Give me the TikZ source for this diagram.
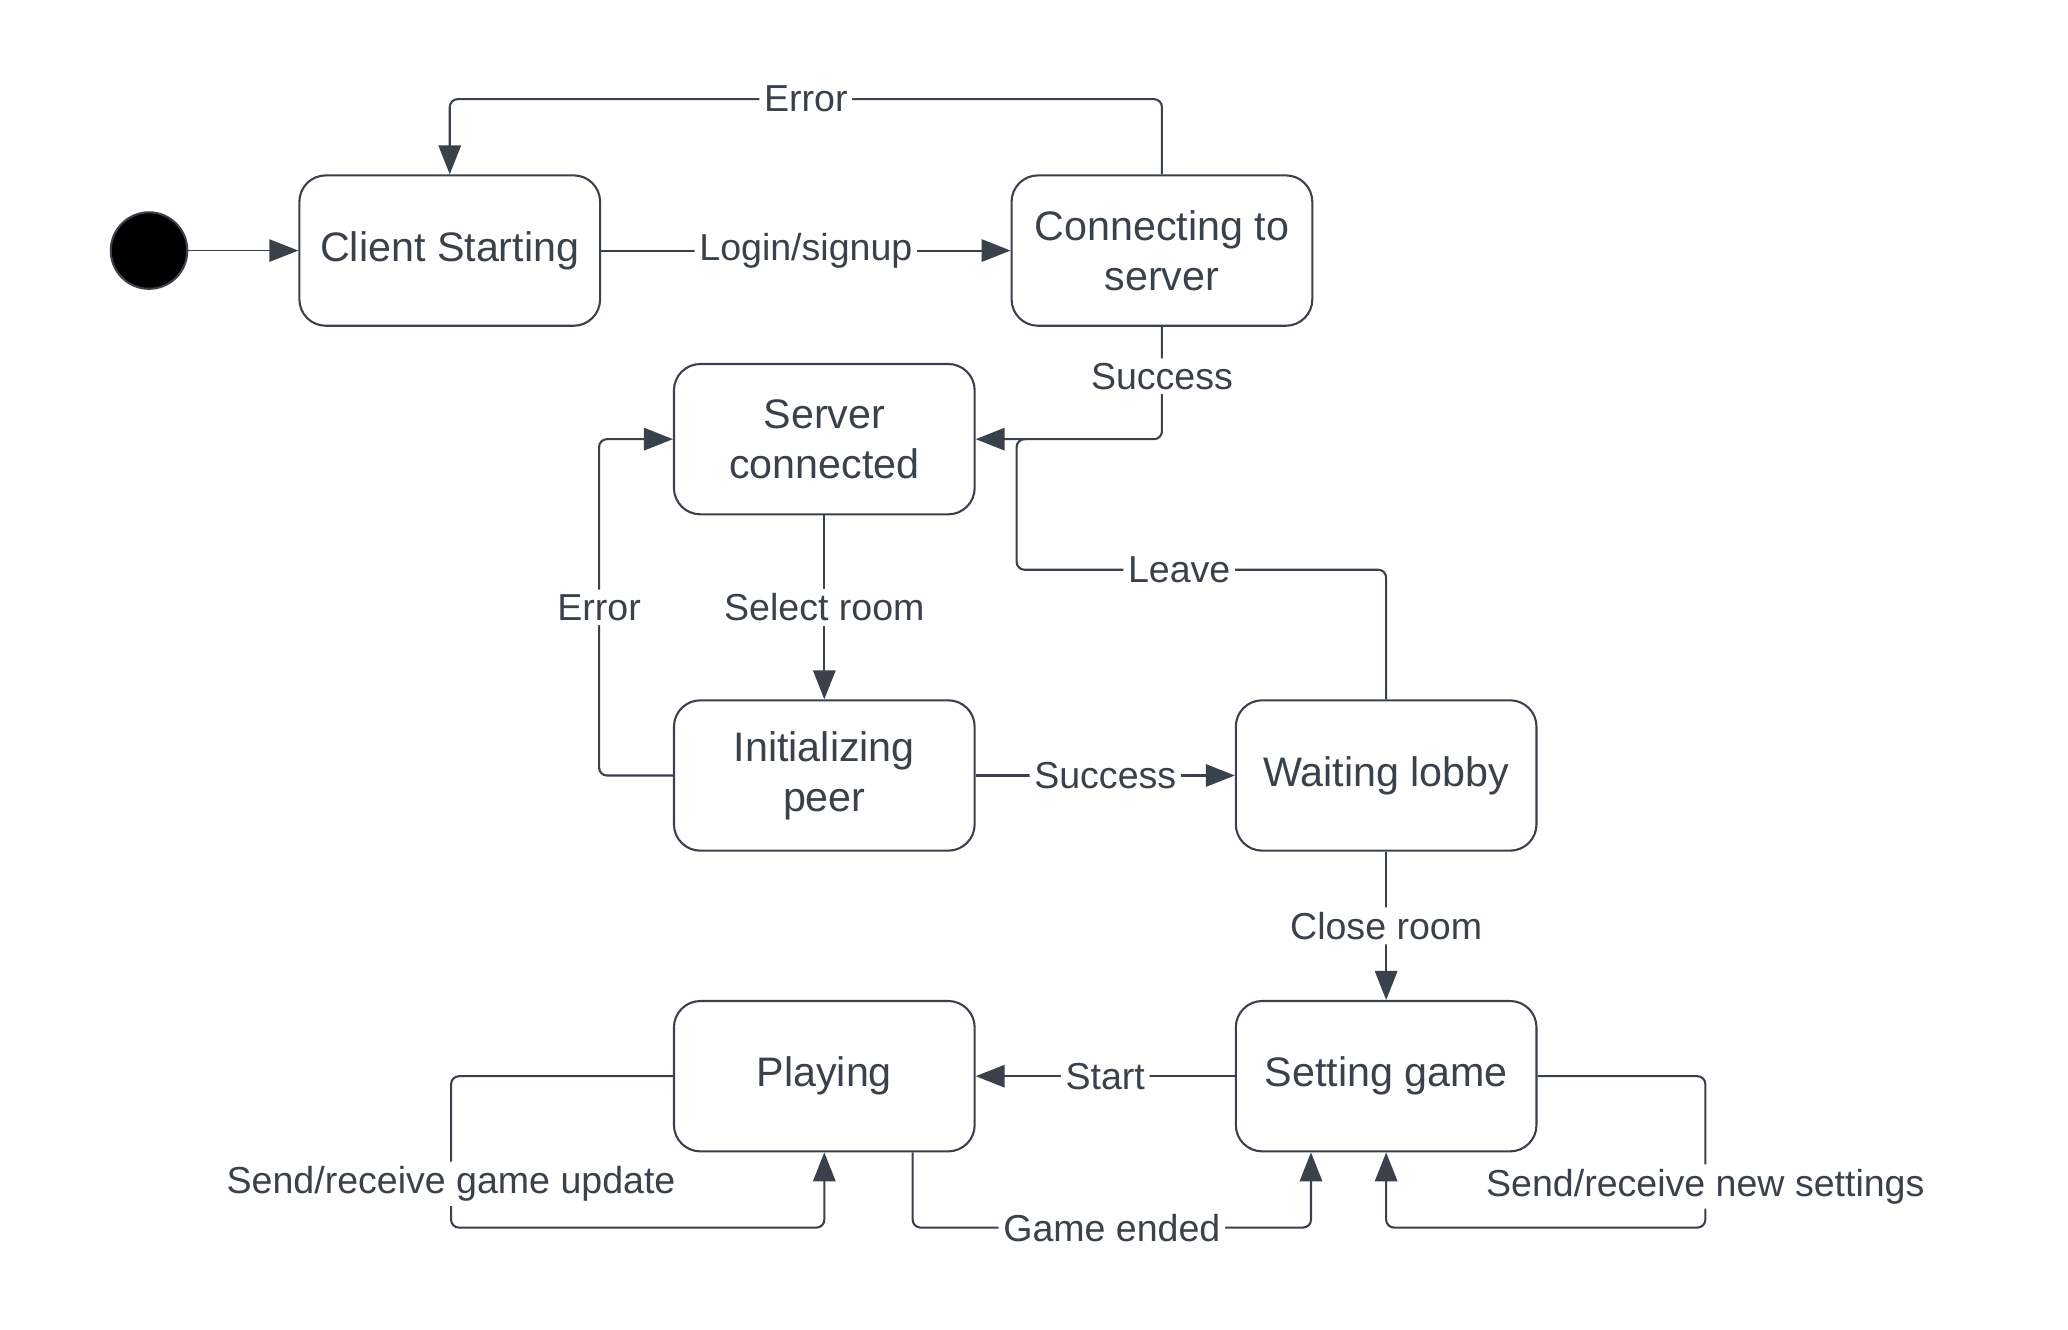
\documentclass[tikz,border=0pt]{standalone}
\usepackage{fontspec}
\setmainfont{Liberation Sans}
\usetikzlibrary{arrows.meta,calc}
\definecolor{linie}{HTML}{3A414A}
\tikzset{
	zustand/.style={draw=linie, text=linie, line width=0.45pt, rounded corners=0.2cm,
		minimum width=2.28cm, minimum height=1.14cm, align=center,
		font=\fontsize{8.9}{10.8}\selectfont},
	trans/.style={draw=linie, line width=0.45pt, rounded corners=0.06cm,
		-{Triangle[length=0.22cm,width=0.17cm]}},
	lbl/.style={fill=white, text=linie, inner sep=1pt, font=\fontsize{8.1}{9.7}\selectfont}
}
\begin{document}
\begin{tikzpicture}
		\useasboundingbox (0, -0.12) rectangle (15.68, 9.96);
		% Zustaende
		\node [circle, fill=black, draw=linie, line width=0.45pt, minimum size=0.58cm, inner sep=0pt] (start) at (1.13, 8.06) {};
		\node [zustand] (cs) at (3.41, 8.06) {Client Starting};
		\node [zustand] (cts) at (8.81, 8.06) {Connecting to\\server};
		\node [zustand] (sc) at (6.25, 6.63) {Server\\connected};
		\node [zustand] (ip) at (6.25, 4.08) {Initializing\\peer};
		\node [zustand] (wl) at (10.51, 4.08) {Waiting lobby};
		\node [zustand] (sg) at (10.51, 1.80) {Setting game};
		\node [zustand] (pl) at (6.25, 1.80) {Playing};
		\coordinate (leaveend) at ($(sc.east)+(0.39, 0)$);
		% Uebergaenge oben
		\draw [trans, line width=0.3pt] (start) -- (cs);
		\draw [trans] (cs) -- node [lbl] {Login/signup} (cts);
		\draw [trans] (cts.north) -- ++(0, 0.57) -| node [lbl, pos=0.25] {Error} (cs.north);
		\draw [trans] (cts.south) |- node [lbl, pos=0.22] {Success} (sc.east);
		% Uebergaenge Mitte
		\draw [trans] (sc) -- node [lbl] {Select room} (ip);
		\draw [trans] (ip.west) -- ++(-0.56, 0) |- node [lbl, pos=0.25] {Error} (sc.west);
		\draw [trans] (ip) -- node [lbl] {Success} (wl);
		\draw [draw=linie, line width=0.45pt, rounded corners=0.06cm] (wl.north) |- node [lbl, pos=0.78] {Leave} ($(leaveend)+(-0.08, -0.99)$) |- (leaveend);
		\draw [trans] (wl) -- node [lbl] {Close room} (sg);
		% Uebergaenge unten
		\draw [trans] (sg) -- node [lbl] {Start} (pl);
		\draw [trans] (pl.west) -| node [lbl, pos=0.855] {Send/receive game update} ($(pl.south)+(-2.83, -0.57)$) -| (pl.south);
		\draw [trans] ($(pl.south)+(0.67, 0)$) -- ++(0, -0.57) -| node [lbl, pos=0.25] {Game ended} ($(sg.south)+(-0.57, 0)$);
		\draw [trans] (sg.east) -| node [lbl, pos=0.864] {Send/receive new settings} ($(sg.south)+(2.42, -0.57)$) -| (sg.south);
	\end{tikzpicture}
\end{document}
